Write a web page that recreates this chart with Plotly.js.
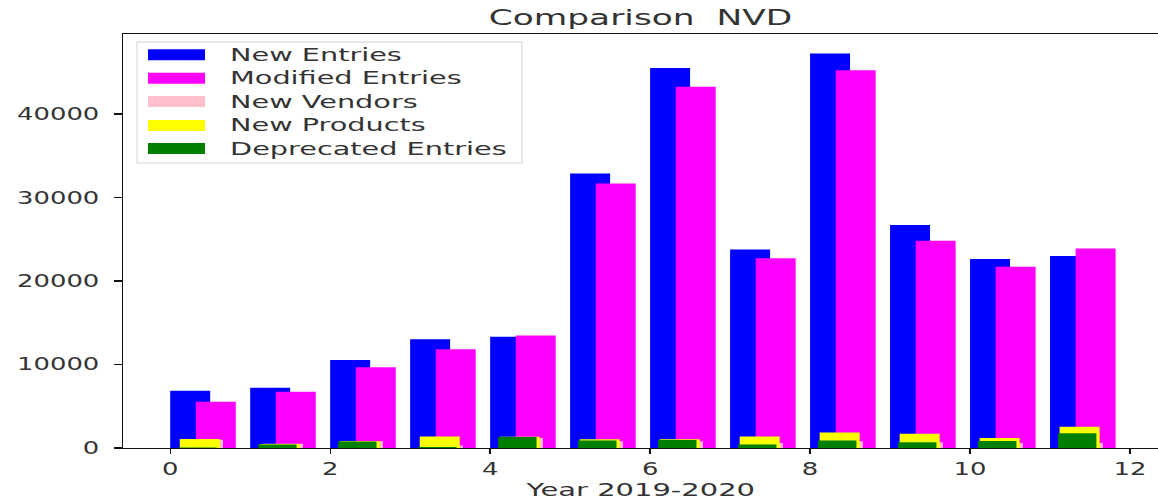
<!DOCTYPE html>
<html>
<head>
<meta charset="utf-8">
<script src="https://cdn.plot.ly/plotly-3.0.1.min.js"></script>
<style>
  html, body { margin: 0; padding: 0; background: #fff; }
  #chart { width: 1158px; height: 500px; }
</style>
</head>
<body>
<div id="chart"></div>
<script>
// ---- data ----
const periods = [0, 1, 2, 3, 4, 5, 6, 7, 8, 9, 10, 11];
const seriesNames = ["New Entries", "Modified Entries", "New Vendors", "New Products", "Deprecated Entries"];
const newEntries        = [6860, 7220, 10540, 13020, 13330, 32900, 45540, 23790, 47270, 26710, 22630, 22990];
const modifiedEntries   = [5540, 6740, 9660, 11820, 13490, 31700, 43270, 22720, 45270, 24830, 21710, 23910];
const newVendors        = [1000, 500, 800, 300, 1200, 800, 800, 600, 800, 700, 600, 600];
const newProducts       = [1080, 480, 800, 1390, 1360, 1060, 1040, 1390, 1870, 1720, 1200, 2560];
const deprecatedEntries = [60, 430, 790, 110, 1320, 910, 960, 420, 910, 680, 840, 1760];
const xTicks = [0, 2, 4, 6, 8, 10, 12];
const yTicks = [0, 10000, 20000, 30000, 40000];

// ---- styles ----
const colors = ["#0000ff", "#ff00ff", "#ffc0cb", "#ffff00", "#008000"];
const offsets = [0.0, 0.32, 0.16, 0.12, 0.10];
const widths  = [0.5, 0.5, 0.5, 0.5, 0.48];
const values = [newEntries, modifiedEntries, newVendors, newProducts, deprecatedEntries];

const traces = values.map((v, k) => ({
  type: "bar",
  x: periods,
  y: v,
  name: seriesNames[k],
  offset: offsets[k],
  width: widths[k],
  marker: { color: colors[k], line: { width: 0 } },
  showlegend: false,
  hoverinfo: "skip"
}));

// plot area in pixels
const L = 123, T = 34, W = 1158 - L, H = 448 - T;
const px = x => (x - L) / W;
const py = y => 1 - (y - T) / H;

const shapes = [{
  type: "rect", xref: "paper", yref: "paper",
  x0: px(137), x1: px(522), y0: py(163), y1: py(42),
  line: { color: "#d0d0d0", width: 1 }, fillcolor: "rgba(255,255,255,0.8)", layer: "above"
}];
const annotations = [];
const rowY = [54.7, 78.3, 101.5, 125.5, 148.5];
seriesNames.forEach((n, k) => {
  shapes.push({
    type: "rect", xref: "paper", yref: "paper",
    x0: px(148), x1: px(205), y0: py(rowY[k] + 5.5), y1: py(rowY[k] - 5.5),
    line: { width: 0 }, fillcolor: colors[k], layer: "above"
  });
  annotations.push({
    xref: "paper", yref: "paper", x: px(228), y: py(rowY[k]),
    xanchor: "left", yanchor: "middle", showarrow: false,
    text: n, font: { family: "DejaVu Sans", size: 17, color: "#333" }
  });
});

const layout = {
  width: 1158, height: 500,
  margin: { l: L, r: 0, t: T, b: 500 - 448, pad: 0 },
  paper_bgcolor: "#fff", plot_bgcolor: "#fff",
  barmode: "overlay",
  font: { family: "DejaVu Sans", color: "#333" },
  title: {
    text: "Comparison \u00a0NVD",
    font: { family: "DejaVu Sans", size: 21.5, color: "#333" },
    xref: "paper", x: 0.5, xanchor: "center",
    yref: "container", y: 1 - 17.5 / 500, yanchor: "middle"
  },
  xaxis: {
    range: [-0.59, 12.35],
    tickmode: "array", tickvals: xTicks, ticktext: xTicks.map(String),
    showgrid: false, zeroline: false,
    showline: true, linecolor: "#111", linewidth: 1.3, mirror: true,
    ticks: "outside", ticklen: 5, tickwidth: 1.3, tickcolor: "#111",
    tickfont: { family: "DejaVu Sans", size: 17, color: "#333" },
    title: { text: "Year 2019-2020", font: { family: "DejaVu Sans", size: 18, color: "#333" }, standoff: 3 }
  },
  yaxis: {
    range: [0, 49600],
    tickmode: "array", tickvals: yTicks, ticktext: yTicks.map(String),
    showgrid: false, zeroline: false,
    showline: true, linecolor: "#111", linewidth: 1.3, mirror: true,
    ticks: "outside", ticklen: 8, tickwidth: 1.3, tickcolor: "#111",
    ticklabelstandoff: 11,
    tickfont: { family: "DejaVu Sans", size: 17, color: "#333" }
  },
  shapes: shapes,
  annotations: annotations
};

function stretchFor(el) {
  if (el.classList.contains("annotation-text")) return 1.69;
  if (el.classList.contains("gtitle")) return 1.6;
  if (el.classList.contains("xtitle")) return 1.61;
  return 1.52;
}
function stretchText(gd) {
  gd.querySelectorAll("svg text").forEach(el => {
    if (!el.textContent.trim()) return;
    const s = stretchFor(el);
    const b = el.getBBox();
    const anchor = el.getAttribute("text-anchor") || "start";
    let ax;
    if (el.classList.contains("annotation-text")) ax = b.x;
    else if (anchor === "middle") ax = b.x + b.width / 2;
    else if (anchor === "end") ax = b.x + b.width;
    else ax = b.x;
    const t = el.getAttribute("transform") || "";
    el.setAttribute("transform", t + " translate(" + ax + ",0) scale(" + s + ",1) translate(" + (-ax) + ",0)");
  });
}

Plotly.newPlot("chart", traces, layout, { displayModeBar: false, staticPlot: true })
  .then(gd => stretchText(gd));
</script>
</body>
</html>
